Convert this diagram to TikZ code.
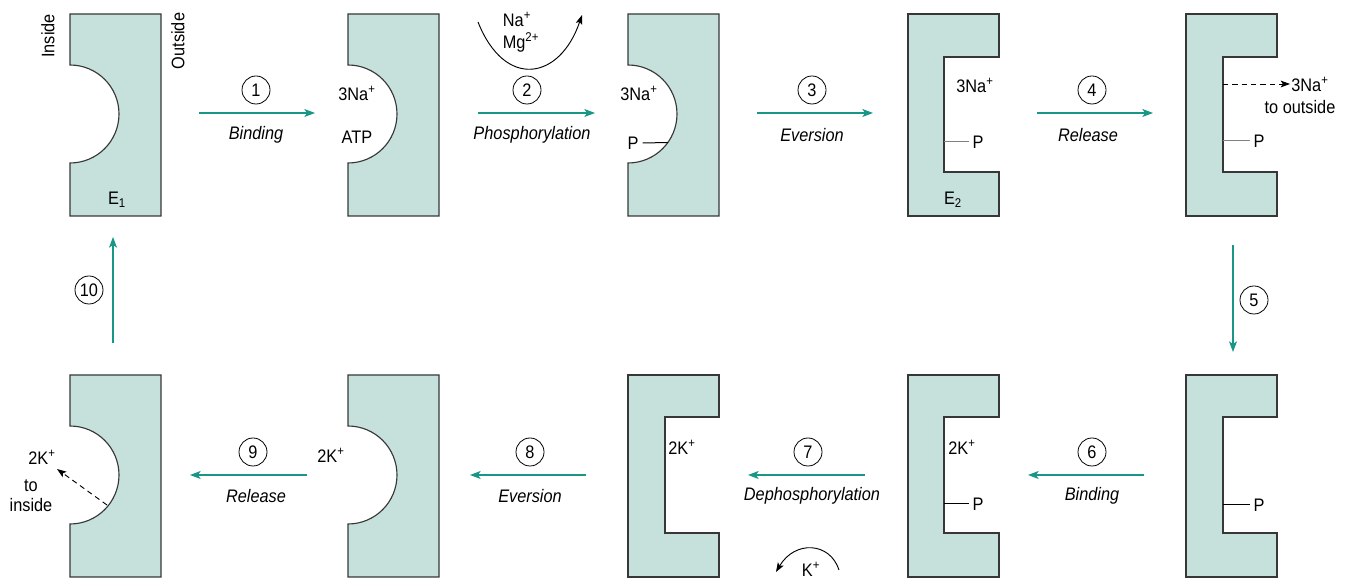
\documentclass[tikz,border=0pt]{standalone}
\usepackage{fontspec}
\setmainfont{Liberation Sans}[FakeStretch = 0.9]
\usetikzlibrary{arrows.meta}
\definecolor{pumpfill}{RGB}{198,225,219}
\definecolor{pumpline}{RGB}{55,55,55}
\definecolor{flowteal}{RGB}{24,150,136}
\begin{document}
\begin{tikzpicture}[x = 0.75pt, y = -0.75pt,
  pump/.style = {draw = pumpline, fill = pumpfill, line width = 0.85pt},
  flow/.style = {draw = flowteal, line width = 0.9pt, -{Stealth[length = 8pt, width = 6pt, inset = 2pt]}},
  ion/.style = {line width = 0.7pt, -{Stealth[length = 7pt, width = 5pt, inset = 1.5pt]}},
  bond/.style = {line width = 0.75pt, shorten > = 2pt},
  stepnum/.style = {circle, draw, line width = 0.6pt, inner sep = 0pt, minimum size = 21pt, font = \fontsize{13.6}{15}\selectfont},
  stepname/.style = {inner sep = 0.75pt, font = \fontsize{13.6}{15}\selectfont\itshape},
  lbl/.style = {inner sep = 0.75pt, font = \fontsize{13.6}{15}\selectfont}]
\useasboundingbox (0, 0) rectangle (1347, 580);
% upper row: E1 -> E2
\draw [pump] (70, 14) -- (161, 14) -- (161, 216) -- (70, 216) -- (70, 163) arc (90:-90:49) -- cycle;
\draw [pump] (348, 14) -- (439, 14) -- (439, 216) -- (348, 216) -- (348, 163) arc (90:-90:49) -- cycle;
\draw [pump] (628, 14) -- (719, 14) -- (719, 216) -- (628, 216) -- (628, 163) arc (90:-90:49) -- cycle;
\draw [pump] (908, 14) -- (999, 14) -- (999, 57) -- (944, 57) -- (944, 172) -- (999, 172) -- (999, 216) -- (908, 216) -- cycle;
\draw [pump] (1186, 14) -- (1277, 14) -- (1277, 57) -- (1223, 57) -- (1223, 172) -- (1277, 172) -- (1277, 216) -- (1186, 216) -- cycle;
% lower row: E2 -> E1
\draw [pump] (70, 375) -- (161, 375) -- (161, 577) -- (70, 577) -- (70, 524) arc (90:-90:49) -- cycle;
\draw [pump] (348, 375) -- (439, 375) -- (439, 577) -- (348, 577) -- (348, 524) arc (90:-90:49) -- cycle;
\draw [pump] (628, 375) -- (719, 375) -- (719, 417) -- (665, 417) -- (665, 533) -- (719, 533) -- (719, 577) -- (628, 577) -- cycle;
\draw [pump] (908, 375) -- (999, 375) -- (999, 417) -- (944, 417) -- (944, 533) -- (999, 533) -- (999, 577) -- (908, 577) -- cycle;
\draw [pump] (1186, 375) -- (1277, 375) -- (1277, 417) -- (1223, 417) -- (1223, 533) -- (1277, 533) -- (1277, 577) -- (1186, 577) -- cycle;

\node [lbl, rotate = 90] (inside) at (48, 36) {Inside};
\node [lbl, rotate = 90] (outside) at (178, 41) {Outside};
\node [lbl] (e1) at (117, 200) {E\textsubscript{1}};
\node [lbl] (e2) at (953, 200) {E\textsubscript{2}};

\node [lbl] (na2) at (357, 93) {3Na\textsuperscript{+}};
\node [lbl] (atp) at (357, 137) {ATP};
\node [lbl] (na3) at (639, 93) {3Na\textsuperscript{+}};
\node [lbl] (p3) at (633, 143) {P};
\draw [line width = 0.75pt] (p3.east) ++(3, 0) coordinate (p3a) -- (668, 142.5) coordinate (p3b);
\node [lbl] (na4) at (975, 85) {3Na\textsuperscript{+}};
\node [lbl] (p4) at (978, 142) {P};
\coordinate (p4a) at (944, 142);
\draw [bond, gray] (p4a) -- (p4.west |- p4a);
\coordinate (na5a) at (1223, 84);
\node [lbl] (na5) at (1310, 84) {3Na\textsuperscript{+}};
\node [lbl] (out5) at (1300, 107) {to outside};
\draw [ion, dash pattern = on 4pt off 3pt] (na5a) -- (na5.west |- na5a);
\node [lbl] (p5) at (1259, 141) {P};
\coordinate (p5a) at (1223, 141);
\draw [bond, gray] (p5a) -- (p5.west |- p5a);

\node [lbl] (k6) at (42, 457) {2K\textsuperscript{+}};
\node [lbl] (to6) at (31, 486) {to};
\node [lbl] (in6) at (31, 505) {inside};
\coordinate (k6a) at (107, 505);
\coordinate (k6b) at (57, 469);
\draw [ion, dash pattern = on 4pt off 3pt] (k6a) -- (k6b);
\node [lbl] (k7) at (331, 455) {2K\textsuperscript{+}};
\node [lbl] (k8) at (682, 447) {2K\textsuperscript{+}};
\node [lbl] (k9) at (962, 447) {2K\textsuperscript{+}};
\node [lbl] (p9) at (978, 504) {P};
\coordinate (p9a) at (944, 504);
\draw [bond] (p9a) -- (p9.west |- p9a);
\node [lbl] (p10) at (1259, 505) {P};
\coordinate (p10a) at (1223, 505);
\draw [bond] (p10a) -- (p10.west |- p10a);

% cofactors
\node [lbl] (na) at (517, 19) {Na\textsuperscript{+}};
\node [lbl] (mg) at (521, 42) {Mg\textsuperscript{2+}};
\coordinate (cfa) at (478, 22);
\coordinate (cfb) at (582, 15);
\draw [ion] (cfa) .. controls (505, 90) and (560, 80) .. (cfb);
\node [lbl] (kk) at (811, 569) {K\textsuperscript{+}};
\coordinate (kka) at (839, 570);
\coordinate (kkb) at (776, 572);
\draw [ion] (kka) .. controls (830, 542) and (795, 540) .. (kkb);

% steps
\coordinate (f1a) at (199, 113);
\coordinate (f1b) at (315, 113);
\draw [flow] (f1a) -- (f1b);
\node [stepnum] (s1) at (256, 90) {1};
\node [stepname] (t1) at (256, 135) {Binding};
\coordinate (f2a) at (478, 113);
\coordinate (f2b) at (595, 113);
\draw [flow] (f2a) -- (f2b);
\node [stepnum] (s2) at (527, 90) {2};
\node [stepname] (t2) at (532, 135) {Phosphorylation};
\coordinate (f3a) at (757, 113);
\coordinate (f3b) at (873, 113);
\draw [flow] (f3a) -- (f3b);
\node [stepnum] (s3) at (812, 90) {3};
\node [stepname] (t3) at (812, 135) {Eversion};
\coordinate (f4a) at (1037, 113);
\coordinate (f4b) at (1153, 113);
\draw [flow] (f4a) -- (f4b);
\node [stepnum] (s4) at (1092, 90) {4};
\node [stepname] (t4) at (1088, 135) {Release};
\coordinate (f5a) at (1233, 245);
\coordinate (f5b) at (1233, 352);
\draw [flow] (f5a) -- (f5b);
\node [stepnum] (s5) at (1254, 300) {5};
\coordinate (f6a) at (1144, 475);
\coordinate (f6b) at (1028, 475);
\draw [flow] (f6a) -- (f6b);
\node [stepnum] (s6) at (1092, 452) {6};
\node [stepname] (t6) at (1092, 496) {Binding};
\coordinate (f7a) at (865, 475);
\coordinate (f7b) at (748, 475);
\draw [flow] (f7a) -- (f7b);
\node [stepnum] (s7) at (808, 452) {7};
\node [stepname] (t7) at (812, 496) {Dephosphorylation};
\coordinate (f8a) at (586, 475);
\coordinate (f8b) at (470, 475);
\draw [flow] (f8a) -- (f8b);
\node [stepnum] (s8) at (530, 452) {8};
\node [stepname] (t8) at (530, 496) {Eversion};
\coordinate (f9a) at (307, 475);
\coordinate (f9b) at (190, 475);
\draw [flow] (f9a) -- (f9b);
\node [stepnum] (s9) at (253, 452) {9};
\node [stepname] (t9) at (256, 496) {Release};
\coordinate (f10a) at (113, 343);
\coordinate (f10b) at (113, 237);
\draw [flow] (f10a) -- (f10b);
\node [stepnum] (s10) at (89, 290) {10};
\end{tikzpicture}
\end{document}
